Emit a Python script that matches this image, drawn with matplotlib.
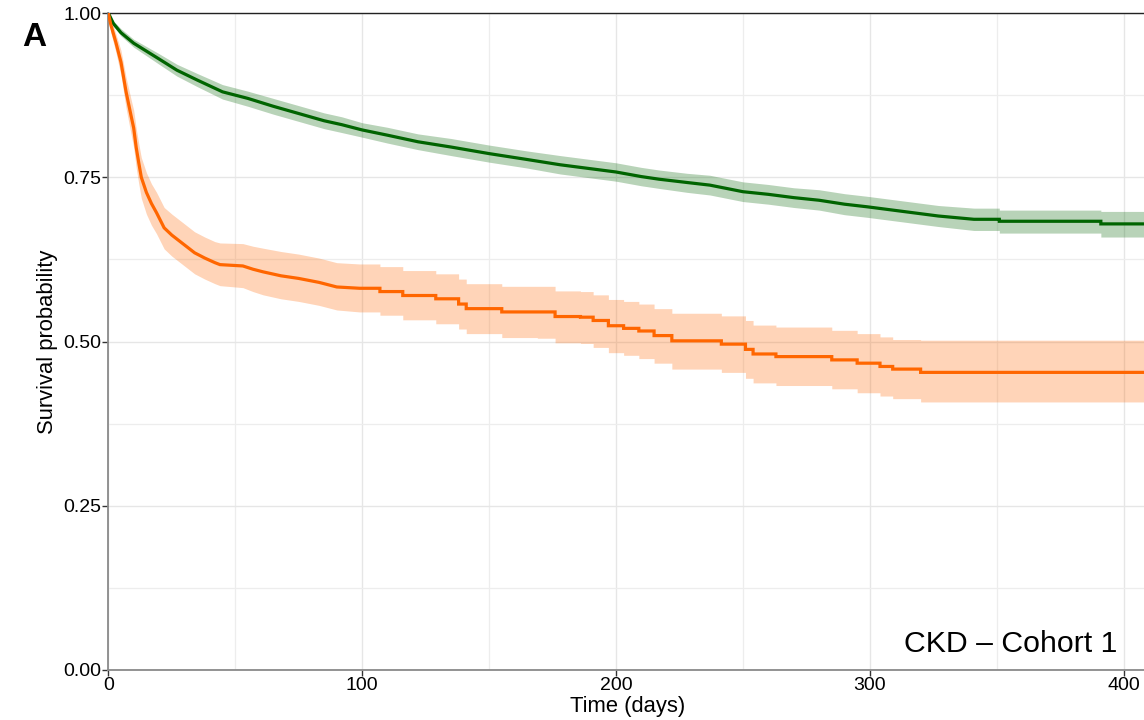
import matplotlib
matplotlib.use("Agg")
import matplotlib.pyplot as plt
from matplotlib.ticker import MultipleLocator, FixedLocator

plt.rcParams['font.family'] = ['Liberation Sans', 'DejaVu Sans']

# ---------------- data ----------------
green_time = [0, 2, 5, 10, 15, 20, 27, 35, 45, 55, 65, 75, 85, 92, 100, 110, 122, 135,
              150, 165, 178, 190, 200, 210, 217, 228, 237, 250, 260, 270, 280, 290, 299,
              313, 327, 341, 351, 391]
green_surv = [1.000, 0.984, 0.970, 0.954, 0.942, 0.930, 0.913, 0.898, 0.880, 0.870, 0.858,
              0.847, 0.836, 0.830, 0.822, 0.814, 0.804, 0.796, 0.786, 0.777, 0.769, 0.763,
              0.758, 0.751, 0.747, 0.742, 0.738, 0.728, 0.724, 0.719, 0.715, 0.709, 0.705,
              0.698, 0.691, 0.686, 0.683, 0.679]
green_lower = [1.000, 0.980, 0.965, 0.948, 0.935, 0.922, 0.904, 0.888, 0.869, 0.858, 0.846,
               0.835, 0.824, 0.818, 0.811, 0.802, 0.792, 0.783, 0.773, 0.764, 0.755, 0.749,
               0.744, 0.737, 0.733, 0.727, 0.723, 0.713, 0.709, 0.704, 0.700, 0.693, 0.689,
               0.682, 0.675, 0.669, 0.665, 0.659]
green_upper = [1.000, 0.988, 0.976, 0.960, 0.949, 0.938, 0.922, 0.908, 0.891, 0.881, 0.870,
               0.859, 0.848, 0.842, 0.833, 0.826, 0.816, 0.809, 0.799, 0.790, 0.783, 0.777,
               0.772, 0.765, 0.761, 0.756, 0.753, 0.743, 0.739, 0.734, 0.731, 0.725, 0.721,
               0.714, 0.707, 0.703, 0.700, 0.698]

orange_time = [0, 1, 3, 5, 7, 9, 10, 11, 12, 13, 15, 17, 19, 22, 25, 28, 31, 34, 38, 42,
               44, 53, 57, 61, 68, 75, 83, 90, 99, 107, 116, 129, 138, 141, 155, 169, 176,
               186, 191, 197, 203, 209, 215, 222, 241.5, 251, 254, 263, 285, 295, 304, 309,
               320]
orange_surv = [1.000, 0.982, 0.955, 0.925, 0.880, 0.843, 0.825, 0.795, 0.772, 0.750, 0.727,
               0.710, 0.696, 0.673, 0.662, 0.653, 0.644, 0.635, 0.627, 0.620, 0.617, 0.615,
               0.610, 0.606, 0.600, 0.596, 0.590, 0.583, 0.581, 0.576, 0.570, 0.565, 0.557,
               0.550, 0.545, 0.545, 0.538, 0.537, 0.532, 0.524, 0.520, 0.516, 0.509, 0.501,
               0.496, 0.488, 0.481, 0.477, 0.472, 0.467, 0.462, 0.458, 0.453]
orange_lower = [1.000, 0.970, 0.940, 0.905, 0.855, 0.815, 0.795, 0.764, 0.740, 0.718, 0.694,
                0.677, 0.664, 0.641, 0.630, 0.621, 0.612, 0.603, 0.595, 0.588, 0.585, 0.582,
                0.576, 0.571, 0.565, 0.561, 0.555, 0.548, 0.545, 0.540, 0.533, 0.527, 0.519,
                0.512, 0.506, 0.505, 0.498, 0.497, 0.491, 0.483, 0.479, 0.474, 0.467, 0.458,
                0.453, 0.444, 0.437, 0.433, 0.428, 0.422, 0.417, 0.413, 0.408]
orange_upper = [1.000, 0.992, 0.968, 0.943, 0.902, 0.868, 0.852, 0.824, 0.801, 0.780, 0.757,
                0.740, 0.727, 0.704, 0.694, 0.685, 0.676, 0.667, 0.659, 0.652, 0.650, 0.649,
                0.645, 0.642, 0.637, 0.633, 0.627, 0.620, 0.618, 0.614, 0.608, 0.603, 0.595,
                0.588, 0.584, 0.584, 0.577, 0.576, 0.571, 0.564, 0.561, 0.557, 0.550, 0.543,
                0.539, 0.532, 0.525, 0.522, 0.517, 0.512, 0.507, 0.503, 0.502]

# time from which the curve's individual steps are clearly visible
green_steps_from = 341
orange_steps_from = 99

x_end = 408
x_ticks = [0, 100, 200, 300, 400]
y_ticks = [0.00, 0.25, 0.50, 0.75, 1.00]
y_tick_labels = ["0.00", "0.25", "0.50", "0.75", "1.00"]

green_color = "#006400"
orange_color = "#FF6600"

# ---------------- figure ----------------
W, H = 1144, 720
fig = plt.figure(figsize=(W / 100, H / 100), dpi=100)
ax = fig.add_axes([108.3 / W, 1 - 670 / H, (W - 108.3) / W, (670 - 13) / H])


def km_path(t, ys, steps_from, t_end):
    """Build a drawing path: fine staircase (drawn as connected points) early,
    explicit horizontal/vertical steps later."""
    px, pys = [t[0]], [[y[0]] for y in ys]
    for i in range(1, len(t)):
        if t[i] > steps_from:
            px.append(t[i])
            for k, y in enumerate(ys):
                pys[k].append(y[i - 1])
        px.append(t[i])
        for k, y in enumerate(ys):
            pys[k].append(y[i])
    px.append(t_end)
    for k, y in enumerate(ys):
        pys[k].append(y[-1])
    return px, pys


for t, s, lo, up, col, sf in [
    (green_time, green_surv, green_lower, green_upper, green_color, green_steps_from),
    (orange_time, orange_surv, orange_lower, orange_upper, orange_color, orange_steps_from),
]:
    px, (ps, plo, pup) = km_path(t, [s, lo, up], sf, x_end)
    ax.fill_between(px, plo, pup, color=col, alpha=0.28, linewidth=0, zorder=2)
    ax.plot(px, ps, color=col, linewidth=2.3, zorder=3, solid_joinstyle="miter")

ax.set_xlim(0, x_end)
ax.set_ylim(0, 1)
ax.xaxis.set_major_locator(FixedLocator(x_ticks))
ax.yaxis.set_major_locator(FixedLocator(y_ticks))
ax.set_yticklabels(y_tick_labels)
ax.xaxis.set_minor_locator(MultipleLocator(50))
ax.yaxis.set_minor_locator(MultipleLocator(0.125))

ax.grid(True, which="major", color="#e6e6e6", linewidth=1.0, zorder=0)
ax.grid(True, which="minor", color="#ededed", linewidth=0.9, zorder=0)
ax.set_axisbelow(True)

ax.tick_params(axis="both", which="major", labelsize=14, length=4, width=1,
               color="#333333", labelcolor="black", pad=1)
ax.tick_params(axis="both", which="minor", length=0)

for side in ["left", "bottom"]:
    ax.spines[side].set_color("#8a8a8a")
    ax.spines[side].set_linewidth(1.3)
ax.spines["top"].set_color("#222222")
ax.spines["top"].set_linewidth(1.0)
ax.spines["right"].set_visible(False)

ax.set_xlabel("Time (days)", fontsize=15.8, labelpad=0)
ax.set_ylabel("Survival probability", fontsize=15.8, labelpad=4)
ax.xaxis.set_label_coords((628 - 108.3) / (W - 108.3), -(696 - 670) / 657)

fig.text(1117 / W, 1 - 652 / H, "CKD – Cohort 1", fontsize=21.8, ha="right",
         va="baseline")
fig.text(22 / W, 1 - 46 / H, "A", fontsize=24, fontweight="bold", ha="left",
         va="baseline")

fig.savefig("out.png", dpi=100)
